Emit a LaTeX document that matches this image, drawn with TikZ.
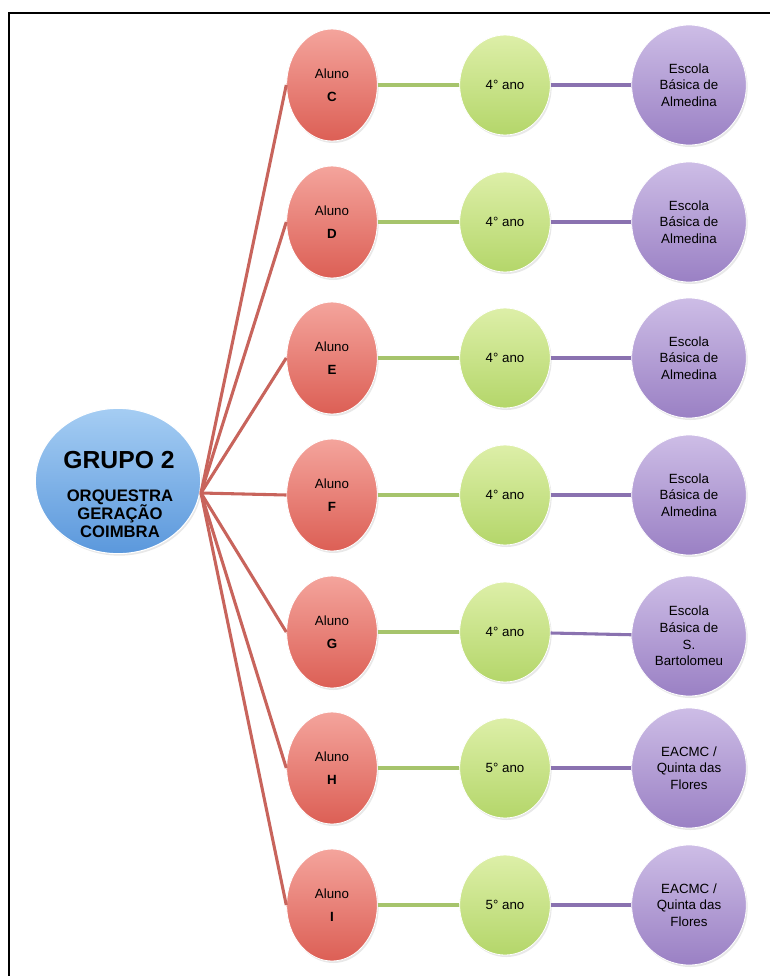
\documentclass[tikz,border=0pt]{standalone}
\usepackage{fontspec}
\setmainfont{Liberation Sans}
\usetikzlibrary{shapes.geometric,shadows}
\begin{document}
\begin{tikzpicture}[x=0.75pt,y=-0.75pt,
  bub/.style={ellipse, inner sep=0pt, align=center, font=\fontsize{10}{12.5}\selectfont, draw=white, line width=0.6pt, drop shadow={opacity=0.18, shadow xshift=1pt, shadow yshift=-1.5pt}},
  alu/.style={bub, minimum width=68pt, minimum height=84pt, top color=redT, bottom color=redB},
  ano/.style={bub, minimum width=68pt, minimum height=75pt, top color=grnT, bottom color=grnB},
  esc/.style={bub, minimum width=86pt, minimum height=90pt, top color=purT, bottom color=purB},
  hubst/.style={ellipse, inner sep=0pt, align=center, minimum width=124pt, minimum height=109pt, top color=bluT, bottom color=bluB, draw=white, line width=0.8pt, drop shadow={opacity=0.18, shadow xshift=1pt, shadow yshift=-1.5pt}},
  redln/.style={draw=redL, line width=2.3pt},
  grnln/.style={draw=grnL, line width=2.3pt},
  purln/.style={draw=purL, line width=2.3pt}]
\definecolor{redT}{HTML}{F4A49C}
\definecolor{redB}{HTML}{DC5F55}
\definecolor{grnT}{HTML}{DDEFA8}
\definecolor{grnB}{HTML}{B4D66A}
\definecolor{purT}{HTML}{CDBDE6}
\definecolor{purB}{HTML}{9A80C4}
\definecolor{bluT}{HTML}{A5CDF3}
\definecolor{bluB}{HTML}{5B98DC}
\definecolor{redL}{HTML}{C8645C}
\definecolor{grnL}{HTML}{A6C46C}
\definecolor{purL}{HTML}{8A72B0}
\useasboundingbox (0,0) rectangle (770,976);
\fill[white] (0,0) rectangle (770,976);
\draw[line width=1.6pt] (9,976) -- (9,13) -- (770,13);

\node[hubst] (hub) at (118,481) {};
\node[font=\bfseries\fontsize{18.5}{22}\selectfont] (t1) at (119,460) {GRUPO 2};
\node[font=\bfseries\fontsize{12.5}{13.6}\selectfont, align=center] (t2) at (120,514) {ORQUESTRA\\GERAÇÃO\\COIMBRA};
\coordinate (h) at (201,493);

\foreach \n/\y/\g/\s/\sy in {
 C/85/{4° ano}/{Escola\\Básica de\\Almedina}/85,
 D/222/{4° ano}/{Escola\\Básica de\\Almedina}/222,
 E/358/{4° ano}/{Escola\\Básica de\\Almedina}/358,
 F/495/{4° ano}/{Escola\\Básica de\\Almedina}/495,
 G/632/{4° ano}/{Escola\\Básica de\\S.\\Bartolomeu}/636,
 H/768/{5° ano}/{EACMC /\\Quinta das\\Flores}/768,
 I/905/{5° ano}/{EACMC /\\Quinta das\\Flores}/905}{
  \node[alu] (a\n) at (332,\y) {Aluno\\[5pt]\textbf{\n}};
  \node[ano] (y\n) at (505,\y) {\g};
  \node[esc] (s\n) at (689,\sy) {\s};
  \draw[redln] (h) -- (a\n.west);
  \draw[grnln] (a\n) -- (y\n);
  \draw[purln] (y\n) -- (s\n);
}
\end{tikzpicture}
\end{document}
